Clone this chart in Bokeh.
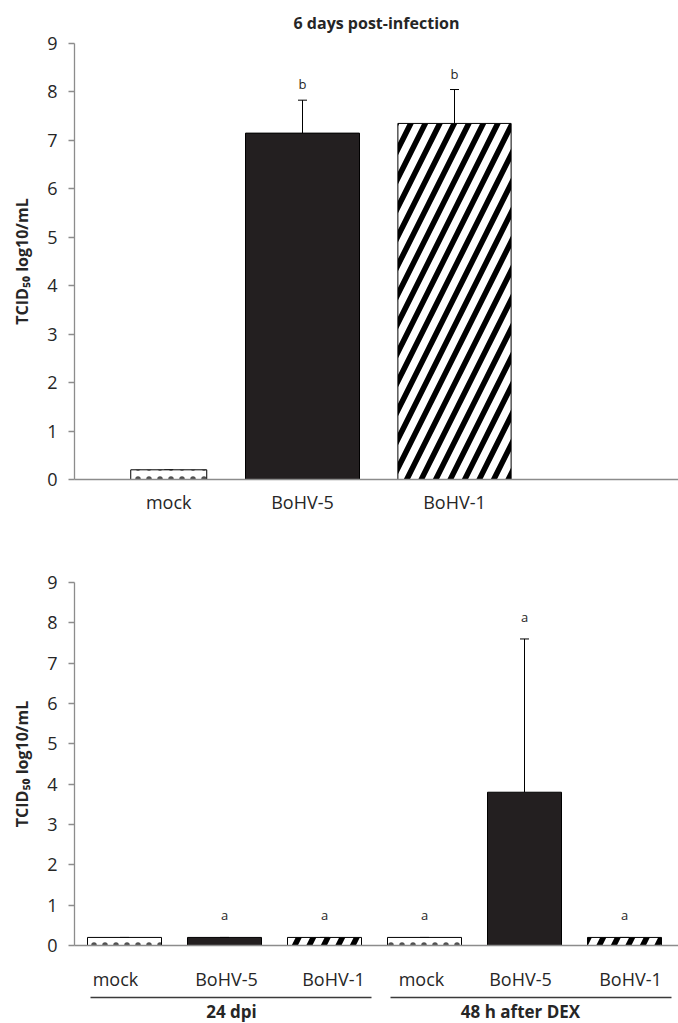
from bokeh.plotting import figure
from bokeh.layouts import column
from bokeh.models import Range1d, FixedTicker, ColumnDataSource, Whisker, TeeHead
from bokeh.embed import file_html
from bokeh.resources import INLINE
from bokeh.core.properties import value

# ---------------- data ----------------
top_title = "6 days post-infection"
top_groups = ["mock", "BoHV-5", "BoHV-1"]
top_means = [0.2, 7.15, 7.35]
top_err = [0.0, 0.68, 0.70]
top_letters = ["", "b", "b"]

bot_groups = ["mock", "BoHV-5", "BoHV-1", "mock", "BoHV-5", "BoHV-1"]
bot_phases = ["24 dpi", "48 h after DEX"]
bot_phase_members = [[0, 1, 2], [3, 4, 5]]
bot_means = [0.2, 0.2, 0.2, 0.2, 3.8, 0.2]
bot_err = [0.0, 0.0, 0.0, 0.0, 3.8, 0.0]
bot_letters = ["", "a", "a", "a", "a", "a"]

y_ticks = [0, 1, 2, 3, 4, 5, 6, 7, 8, 9]
y_label = "TCID\u2085\u2080 log10/mL"

# ---------------- style ----------------
FONT = "Open Sans"
INK = "#231f20"
TXT = "#262626"
AXIS = "#8c8c8c"
STYLE = {
    "mock": dict(fill_color="white", hatch_pattern="dot", hatch_scale=11,
                 hatch_weight=0.4, hatch_color="#333333", hatch_alpha=0.85),
    "BoHV-5": dict(fill_color=INK),
    "BoHV-1": dict(fill_color="white", hatch_pattern="right_diagonal_line",
                   hatch_scale=29, hatch_weight=5.5, hatch_color="black"),
}
W = 678
LEFT = 74


def base_fig(h, xr, yr, top, bottom):
    p = figure(width=W, height=h, x_range=xr, y_range=yr,
               min_border_left=LEFT, min_border_right=0,
               min_border_top=top, min_border_bottom=bottom,
               output_backend="svg", toolbar_location=None,
               outline_line_color=None, background_fill_color=None,
               border_fill_color=None)
    p.grid.visible = False
    return p


def style_y(p):
    ax = p.yaxis[0]
    ax.ticker = FixedTicker(ticks=y_ticks)
    ax.axis_label = y_label
    ax.axis_label_text_font = FONT
    ax.axis_label_text_font_style = "bold"
    ax.axis_label_text_font_size = "16px"
    ax.axis_label_text_color = TXT
    ax.axis_label_standoff = 11
    ax.major_label_text_font = FONT
    ax.major_label_text_font_size = "18px"
    ax.major_label_text_color = TXT
    ax.major_label_standoff = 11
    ax.major_tick_out = 6
    ax.major_tick_in = 0
    ax.minor_tick_line_color = None
    ax.axis_line_color = AXIS
    ax.major_tick_line_color = AXIS
    ax.axis_line_width = 1.3
    ax.major_tick_line_width = 1.3


def style_x(p, ticks, labels, standoff):
    ax = p.xaxis[0]
    ax.ticker = FixedTicker(ticks=ticks)
    ax.major_label_overrides = {t: l for t, l in zip(ticks, labels)}
    ax.major_label_text_font = FONT
    ax.major_label_text_font_size = "18px"
    ax.major_label_text_color = TXT
    ax.major_label_standoff = standoff
    ax.major_tick_line_color = None
    ax.major_tick_out = 0
    ax.major_tick_in = 0
    ax.minor_tick_line_color = None
    ax.axis_line_color = AXIS
    ax.axis_line_width = 1.3


def draw_bars(p, xs, widths, means, errs, groups, letters, letter_dy):
    upper = [m + e for m, e in zip(means, errs)]
    for g in dict.fromkeys(groups):
        idx = [i for i, gg in enumerate(groups) if gg == g]
        sub = ColumnDataSource(dict(x=[xs[i] for i in idx], w=[widths[i] for i in idx],
                                    top=[means[i] for i in idx]))
        p.vbar(x="x", width="w", top="top", bottom=0, source=sub,
               line_color="black", line_width=1, **STYLE[g])
    src = ColumnDataSource(dict(x=xs, top=means, upper=upper, letter=letters))
    p.add_layout(Whisker(source=src, base="x", lower="top", upper="upper",
                         line_color="black", line_width=1,
                         upper_head=TeeHead(size=9, line_color="black", line_width=1),
                         lower_head=None))
    p.text(x="x", y="upper", text="letter", source=src, y_offset=letter_dy,
           text_align="center", text_baseline="middle",
           text_font=value(FONT), text_font_size="13px", text_color=TXT)


# ---------------- top chart ----------------
TOP_UNIT = 152.0
top_x = [0.62, 1.5, 2.5]
top_w = [0.5, 0.75, 0.745]
p1 = base_fig(532, Range1d(0, (W - LEFT) / TOP_UNIT), Range1d(0, 9), 43, 53)
p1.title.text = top_title
p1.title.align = "center"
p1.title.offset = 9
p1.title.standoff = 19
p1.title.text_font = FONT
p1.title.text_font_style = "bold"
p1.title.text_font_size = "16px"
p1.title.text_color = TXT
draw_bars(p1, top_x, top_w, top_means, top_err, top_groups, top_letters, -16)
style_y(p1)
style_x(p1, top_x, top_groups, 10)

# ---------------- bottom chart ----------------
BOT_UNIT = 100.0
n = len(bot_groups)
bot_x = [i + 0.5 for i in range(n)]
bot_w = [0.74] * n
label_dx = [-0.09, 0.02, 0.09, -0.03, -0.04, 0.06]
bot_label_x = [round(x + d, 3) for x, d in zip(bot_x, label_dx)]
p2 = base_fig(461, Range1d(0, (W - LEFT) / BOT_UNIT), Range1d(0, 9), 50, 47)
draw_bars(p2, bot_x, bot_w, bot_means, bot_err, bot_groups, bot_letters, -22)
style_y(p2)
style_x(p2, bot_label_x, bot_groups, 21)

# ---------------- group labels below bottom chart ----------------
H3 = 1023 - 532 - 461
p3 = base_fig(H3, Range1d(0, (W - LEFT) / BOT_UNIT), Range1d(H3, 0), 0, 0)
p3.xaxis.visible = False
p3.yaxis.visible = False
x0s = [m[0] + 0.16 for m in bot_phase_members]
x1s = [m[-1] + 0.97 for m in bot_phase_members]
p3.segment(x0=x0s, y0=[4, 4], x1=x1s, y1=[4, 4], line_color="#3a3a3a", line_width=1.5)
grp_dx = [0.07, -0.04]
grp_x = [(m[0] + m[-1] + 1) / 2 + d for m, d in zip(bot_phase_members, grp_dx)]
p3.text(x=grp_x, y=[18, 18], text=bot_phases, text_align="center",
        text_baseline="middle", text_font=value(FONT), text_font_size="17px",
        text_font_style="bold", text_color=TXT)

layout = column(p1, p2, p3, spacing=0)
open("out.html", "w").write(file_html(layout, INLINE))
